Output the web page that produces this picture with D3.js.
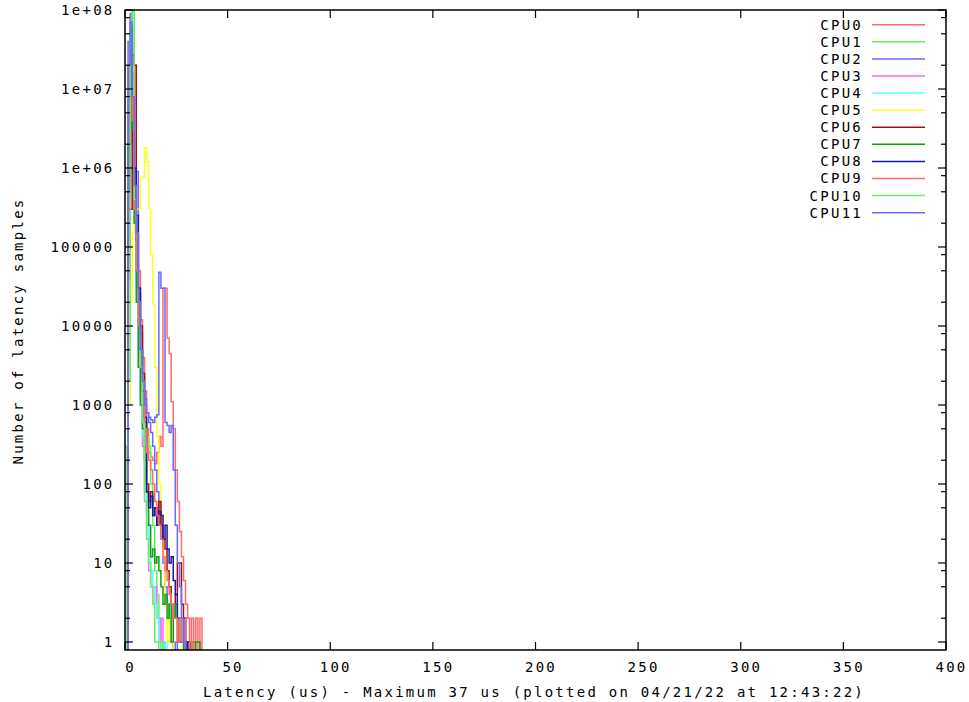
<!DOCTYPE html>
<html>
<head>
<meta charset="utf-8">
<script src="https://cdn.jsdelivr.net/npm/d3@7"></script>
<style>
  body { margin: 0; background: #fff; }
  svg { display: block; }
  text { font-family: "DejaVu Sans Mono", "Liberation Mono", monospace; font-size: 14px; letter-spacing: 2.25px; fill: #000; }
</style>
</head>
<body>
<svg id="chart" width="969" height="702"></svg>
<script>
// ---- data (index = latency in us, value = number of samples) ----
const cpuNames = ["CPU0","CPU1","CPU2","CPU3","CPU4","CPU5","CPU6","CPU7","CPU8","CPU9","CPU10","CPU11"];
const cpuColors = ["#ff6a6a","#66ee66","#6a6aff","#ff66ff","#55ffff","#ffff22","#a01010","#10a010","#1a1aa0","#ff6a6a","#66ee66","#6a6aff"];

const cpu0  = [0,0,2e5,3e6,3.8e7,2e7,6e5,5e4,1.2e4,4000,1500,500,250,220,200,180,250,400,300,3e4,3e4,7000,4500,1100,500,150,60,25,12,6,3,2,0,2,1,2,0,2];
const cpu1  = [0,0,1e5,2e7,1.2e8,3e5,1.5e5,2e4,4000,1000,500,400,300,100,30,8,4,2,1];
const cpu2  = [0,0,4e7,9e7,1.6e7,9e5,9e5,2.6e4,8000,2500,1200,800,600,450,300,150,80,40,20,10,5,3,2,1,0,1];
const cpu3  = [0,0,4e4,4e7,2e6,3e5,4e4,5000,1200,300,80,30,8,5,3,5,2,1,2,1];
const cpu4  = [0,0,1e6,5e7,5e6,2e5,3e4,3000,1000,400,150,40,15,8,5,3,2,1,1,0,1];
const cpu5  = [0,0,1000,2e4,1.5e5,2.5e5,3e5,3e5,7.7e5,7.7e5,1.8e6,1.2e6,3.1e5,7.9e4,1.9e4,3000,400,100,40,12,3,1,2,1];
const cpu6  = [0,0,3e5,3e5,2.7e7,2e7,1.2e5,3e4,1e4,2500,600,100,60,80,40,50,30,60,30,20,15,8,5,3,2,4,10,10,3,2,0,1];
const cpu7  = [0,0,2e6,6e7,3e6,2e5,2e4,3000,1000,500,200,80,30,12,15,10,12,8,5,3,4,2,3,1,2,3,1,2,1,0,1,1,0,1,0,1,1];
const cpu8  = [0,0,5e5,3e7,8e6,1e6,2.5e5,3e4,5000,1500,700,80,50,70,40,50,30,45,40,20,30,15,10,12,6,4,2,1,1,2,0,1];
const cpu9  = [0,0,1e6,3e7,4e6,3e5,5e4,1e4,3000,1200,500,250,200,150,100,60,40,30,20,12,8,6,4,3,2,2,1,2,1,1,2,2,0,1];
const cpu10 = [0,300,2000,6e7,1.1e8,4e5,1.5e5,2e4,3000,600,60,20,10,5,3,1,1,0,1];
const cpu11 = [0,0,2e7,7e7,8e6,6e5,1.5e5,2e4,5000,2000,1000,800,700,650,600,700,750,4.8e4,3e4,3e4,600,550,450,550,150,30,10,5,2,1];

const series = [cpu0,cpu1,cpu2,cpu3,cpu4,cpu5,cpu6,cpu7,cpu8,cpu9,cpu10,cpu11];

const xTicks = [0,50,100,150,200,250,300,350,400];
const yTicks = [1,10,100,1000,10000,100000,1e6,1e7,1e8];
const yTickLabels = ["1","10","100","1000","10000","100000","1e+06","1e+07","1e+08"];
const yMinorMult = [2,5,8];
const xLabel = "Latency (us) - Maximum 37 us (plotted on 04/21/22 at 12:43:22)";
const yLabel = "Number of latency samples";

// ---- layout ----
const L = 125, R = 946, T = 10, B = 650;
const svg = d3.select("#chart");
const x = d3.scaleLinear().domain([0, 400]).range([L, R]);
const y = d3.scaleLog().domain([Math.pow(10, -8/79), 1e8]).range([B, T]);

svg.append("defs").append("clipPath").attr("id", "clip")
  .append("rect").attr("x", L).attr("y", T).attr("width", R - L).attr("height", B - T);

// ---- data lines (histeps) ----
const line = d3.line()
  .x(d => x(d[0]))
  .y(d => d[1] > 0 ? y(d[1]) : B + 6);

const g = svg.append("g").attr("clip-path", "url(#clip)");
series.forEach((vals, k) => {
  let first = vals.findIndex(v => v > 0);
  let last = vals.length - 1;
  while (last > 0 && vals[last] <= 0) last--;
  const pts = [[first - 0.5, 0]];
  for (let i = first; i <= last; i++) {
    pts.push([i - 0.5, vals[i]]);
    pts.push([i + 0.5, vals[i]]);
  }
  pts.push([last + 0.5, 0]);
  g.append("path").attr("d", line(pts))
    .attr("fill", "none").attr("stroke", cpuColors[k]).attr("stroke-width", 1.5);
});

// ---- border ----
svg.append("rect").attr("x", L).attr("y", T).attr("width", R - L).attr("height", B - T)
  .attr("fill", "none").attr("stroke", "#000").attr("stroke-width", 1.5);

// ---- ticks ----
const tg = svg.append("g").attr("stroke", "#000").attr("stroke-width", 1.2);
xTicks.forEach(t => {
  tg.append("line").attr("x1", x(t)).attr("x2", x(t)).attr("y1", B).attr("y2", B - 8);
  tg.append("line").attr("x1", x(t)).attr("x2", x(t)).attr("y1", T).attr("y2", T + 8);
});
yTicks.forEach(t => {
  tg.append("line").attr("x1", L).attr("x2", L + 8).attr("y1", y(t)).attr("y2", y(t));
  tg.append("line").attr("x1", R).attr("x2", R - 8).attr("y1", y(t)).attr("y2", y(t));
});
yTicks.slice(0, -1).forEach(t => {
  yMinorMult.forEach(m => {
    const v = t * m;
    tg.append("line").attr("x1", L).attr("x2", L + 5).attr("y1", y(v)).attr("y2", y(v));
    tg.append("line").attr("x1", R).attr("x2", R - 5).attr("y1", y(v)).attr("y2", y(v));
  });
});

// ---- tick labels ----
xTicks.forEach(t => {
  svg.append("text").attr("x", x(t) + 5.5).attr("y", 667).attr("dy", "0.35em")
    .attr("text-anchor", "middle").text(String(t));
});
yTicks.forEach((t, i) => {
  svg.append("text").attr("x", 114.5).attr("y", y(t)).attr("dy", "0.35em")
    .attr("text-anchor", "end").text(yTickLabels[i]);
});

// ---- axis titles ----
svg.append("text").attr("x", 534).attr("y", 697).attr("text-anchor", "middle").text(xLabel);
svg.append("text").attr("transform", "translate(23,331) rotate(-90)")
  .attr("text-anchor", "middle").text(yLabel);

// ---- legend ----
cpuNames.forEach((name, i) => {
  const ly = 24.7 + 17.09 * i;
  svg.append("text").attr("x", 863).attr("y", ly).attr("dy", "0.35em")
    .attr("text-anchor", "end").text(name);
  svg.append("line").attr("x1", 872).attr("x2", 925).attr("y1", ly).attr("y2", ly)
    .attr("stroke", cpuColors[i]).attr("stroke-width", 1.5);
});
</script>
</body>
</html>
